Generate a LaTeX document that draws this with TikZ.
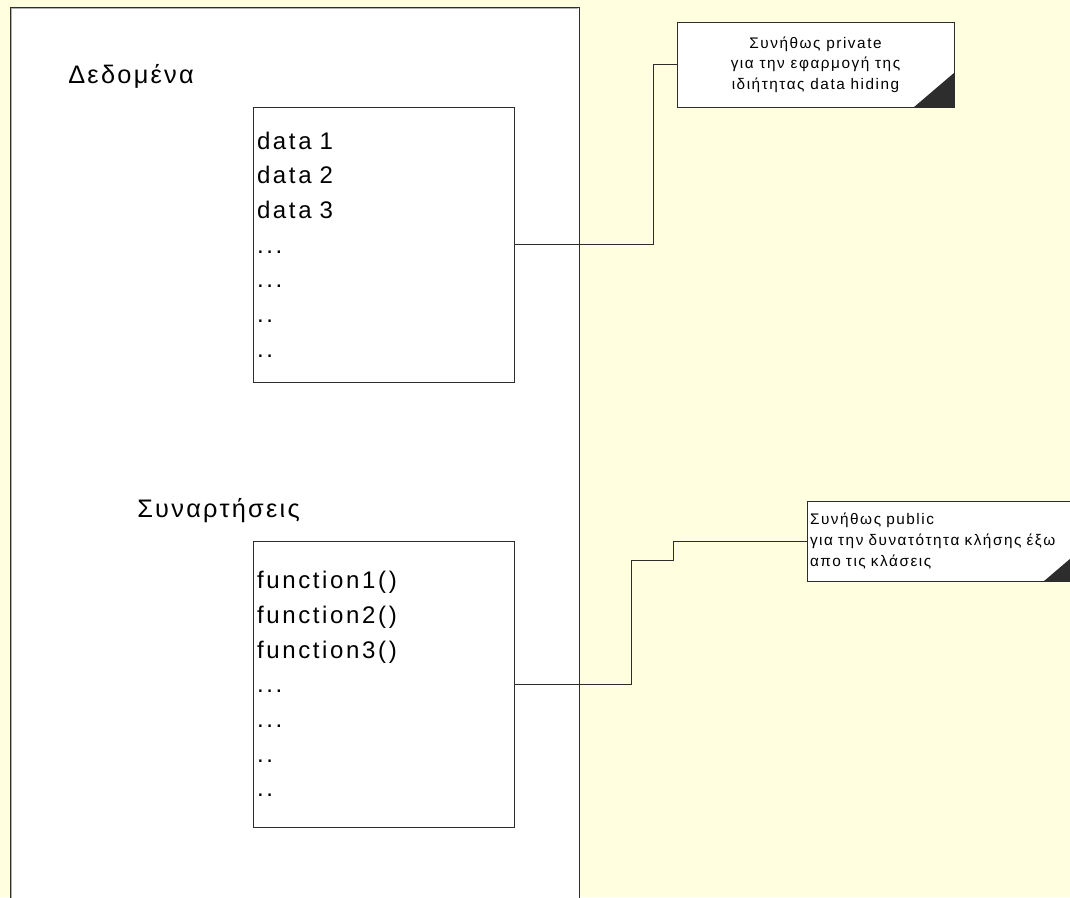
\documentclass[tikz,border=0pt]{standalone}
\usepackage{fontspec}
\setmainfont{Liberation Sans}
\usetikzlibrary{positioning}

\definecolor{paper}{RGB}{255,255,224}
\definecolor{edge}{RGB}{45,45,45}
\def\px{0.75pt}

\tikzset{
  heading/.style={anchor=base west, inner sep=0pt,
    font=\fontsize{19}{19}\selectfont\addfontfeature{LetterSpace=9}},
  membox/.style={draw=edge, fill=white, line width=1*\px, align=left,
    minimum width=261*\px, text width=253*\px, inner xsep=4*\px,
    font=\fontsize{18}{26}\selectfont\addfontfeature{LetterSpace=11}},
  note/.style={draw=edge, fill=white, line width=1*\px,
    font=\fontsize{11.5}{15.5}\selectfont\addfontfeature{LetterSpace=10}},
  wire/.style={draw=edge, line width=1*\px},
}

\begin{document}
\begin{tikzpicture}[x=\px, y=-\px]
    % page and class frame
    \clip (0,0) rectangle (1070,897);
    \fill[paper] (0,0) rectangle (1070,897);
    \filldraw[fill=white, draw=edge, line width=1*\px] (10,920) -- (10,7) -- (579,7) -- (579,920);
    \draw[gray!60, line width=1*\px] (11,920) -- (11,8) -- (578,8);

    % headings
    \node[heading] (datatitle) at (68,83) {Δεδομένα};
    \node[heading] (functitle) at (137,517) {Συναρτήσεις};

    % member boxes
    \node[membox, minimum height=275*\px] (data) at (383.5,244.5)
        {data 1\\data 2\\data 3\\...\\...\\..\\..};
    \node[membox, minimum height=286*\px] (funcs) at (383.5,684)
        {function1()\\function2()\\function3()\\...\\...\\..\\..};

    % notes
    \node[note, align=center, minimum width=277*\px, minimum height=85*\px] (privnote) at (815.5,64.5)
        {Συνήθως private\\για την εφαρμογή της\\ιδιήτητας data hiding};
    \node[note, align=left, minimum width=277*\px, text width=271*\px, inner xsep=3*\px,
        minimum height=80*\px] (pubnote) at (945.5,541)
        {Συνήθως public\\για την δυνατότητα κλήσης έξω\\απο τις κλάσεις};
    \fill[edge] (privnote.south east) -- ++(-41,0) -- ++(41,-35) -- cycle;
    \fill[edge] (pubnote.south east) -- ++(-41,0) -- ++(41,-35) -- cycle;

    % connectors
    \draw[wire] (data.east) -- ++(139,0) |- (privnote.west);
    \draw[wire] (funcs.east) -- ++(117,0) |- ++(42,-124) |- (pubnote.west);
\end{tikzpicture}
\end{document}
